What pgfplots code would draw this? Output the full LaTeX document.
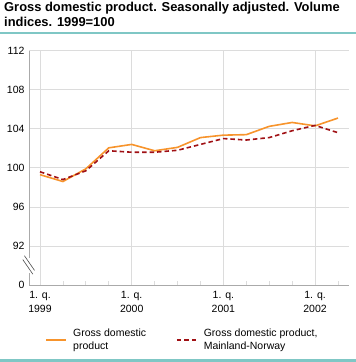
\documentclass[border=0pt]{standalone}
\usepackage{pgfplots}
\pgfplotsset{compat=1.18}
\usepackage{fontspec}
\setmainfont{Liberation Sans}
\definecolor{gdp}{RGB}{247,148,44}
\definecolor{mainland}{RGB}{160,16,20}
\definecolor{teal}{RGB}{127,199,197}
\definecolor{gridc}{RGB}{220,220,220}
\definecolor{axc}{RGB}{170,170,170}
\begin{document}
\begin{tikzpicture}
\useasboundingbox (0pt,0pt) rectangle (356pt,362pt);
\node[anchor=base west,inner sep=0,font=\bfseries\fontsize{12.9}{14}\selectfont] at (4pt,350pt) {Gross domestic product. Seasonally adjusted. Volume};
\node[anchor=base west,inner sep=0,font=\bfseries\fontsize{12.9}{14}\selectfont] at (4pt,335pt) {indices. 1999=100};
\draw[teal,line width=2pt] (0pt,329pt) -- (356pt,329pt);
\draw[teal,line width=2.5pt] (0pt,1.5pt) -- (356pt,1.5pt);
\begin{axis}[
  at={(29pt,77pt)}, anchor=south west,
  scale only axis, width=320pt, height=234.3pt,
  xmin=-0.48, xmax=13.48, ymin=88, ymax=112,
  axis lines=left, axis line style={axc,line width=0.8pt,-},
  xtick={0,4,8,12},
  xticklabels={{1. q.\\1999},{1. q.\\2000},{1. q.\\2001},{1. q.\\2002}},
  x tick label style={align=center,font=\fontsize{10.5}{14}\selectfont},
  minor xtick={1,2,3,5,6,7,9,10,11,13},
  ytick={88,92,96,100,104,108,112},
  yticklabels={0,92,96,100,104,108,112},
  y tick label style={font=\fontsize{10.5}{13}\selectfont},
  /pgf/number format/assume math mode=true,
  xmajorgrids, ymajorgrids,
  major grid style={gridc,line width=0.8pt},
  major tick length=0pt,
  minor tick length=4pt,
  minor tick style={gridc,line width=0.8pt},
  xtick pos=left, ytick pos=left,
  tick align=inside,
  xticklabel style={yshift=-3pt},
  yticklabel style={xshift=-1pt},
  clip=false,
  legend columns=2,
  legend style={draw=none,fill=none,at={(0.042,-0.168)},anchor=north west,
    font=\fontsize{10.5}{13.5}\selectfont,
    nodes={align=left,anchor=west},
    /tikz/every odd column/.append style={column sep=4pt},
    /tikz/every even column/.append style={column sep=28pt}},
  legend cell align=left,
  legend image code/.code={\draw[#1] (0pt,0pt) -- (20pt,0pt);},
]
\draw[white,line width=4pt] (axis cs:-0.48,89.2) -- (axis cs:-0.48,90.8);
\draw[black!70,line width=0.6pt] (axis cs:-0.68,91.0) -- (axis cs:-0.24,89.5);
\draw[black!70,line width=0.6pt] (axis cs:-0.75,90.6) -- (axis cs:-0.31,89.1);
\addplot[gdp,line width=1.6pt] coordinates {
(0,99.3) (1,98.6) (2,99.9) (3,102.05) (4,102.4) (5,101.75) (6,102.1)
(7,103.1) (8,103.35) (9,103.4) (10,104.25) (11,104.65) (12,104.3) (13,105.1)};
\addlegendentry{Gross domestic\\product}
\addplot[mainland,line width=1.6pt,dash pattern=on 4.5pt off 3pt] coordinates {
(0,99.6) (1,98.8) (2,99.7) (3,101.75) (4,101.6) (5,101.6) (6,101.8)
(7,102.4) (8,103.0) (9,102.85) (10,103.1) (11,103.8) (12,104.35) (13,103.6)};
\addlegendentry{Gross domestic product,\\Mainland-Norway}
\end{axis}
\end{tikzpicture}
\end{document}
